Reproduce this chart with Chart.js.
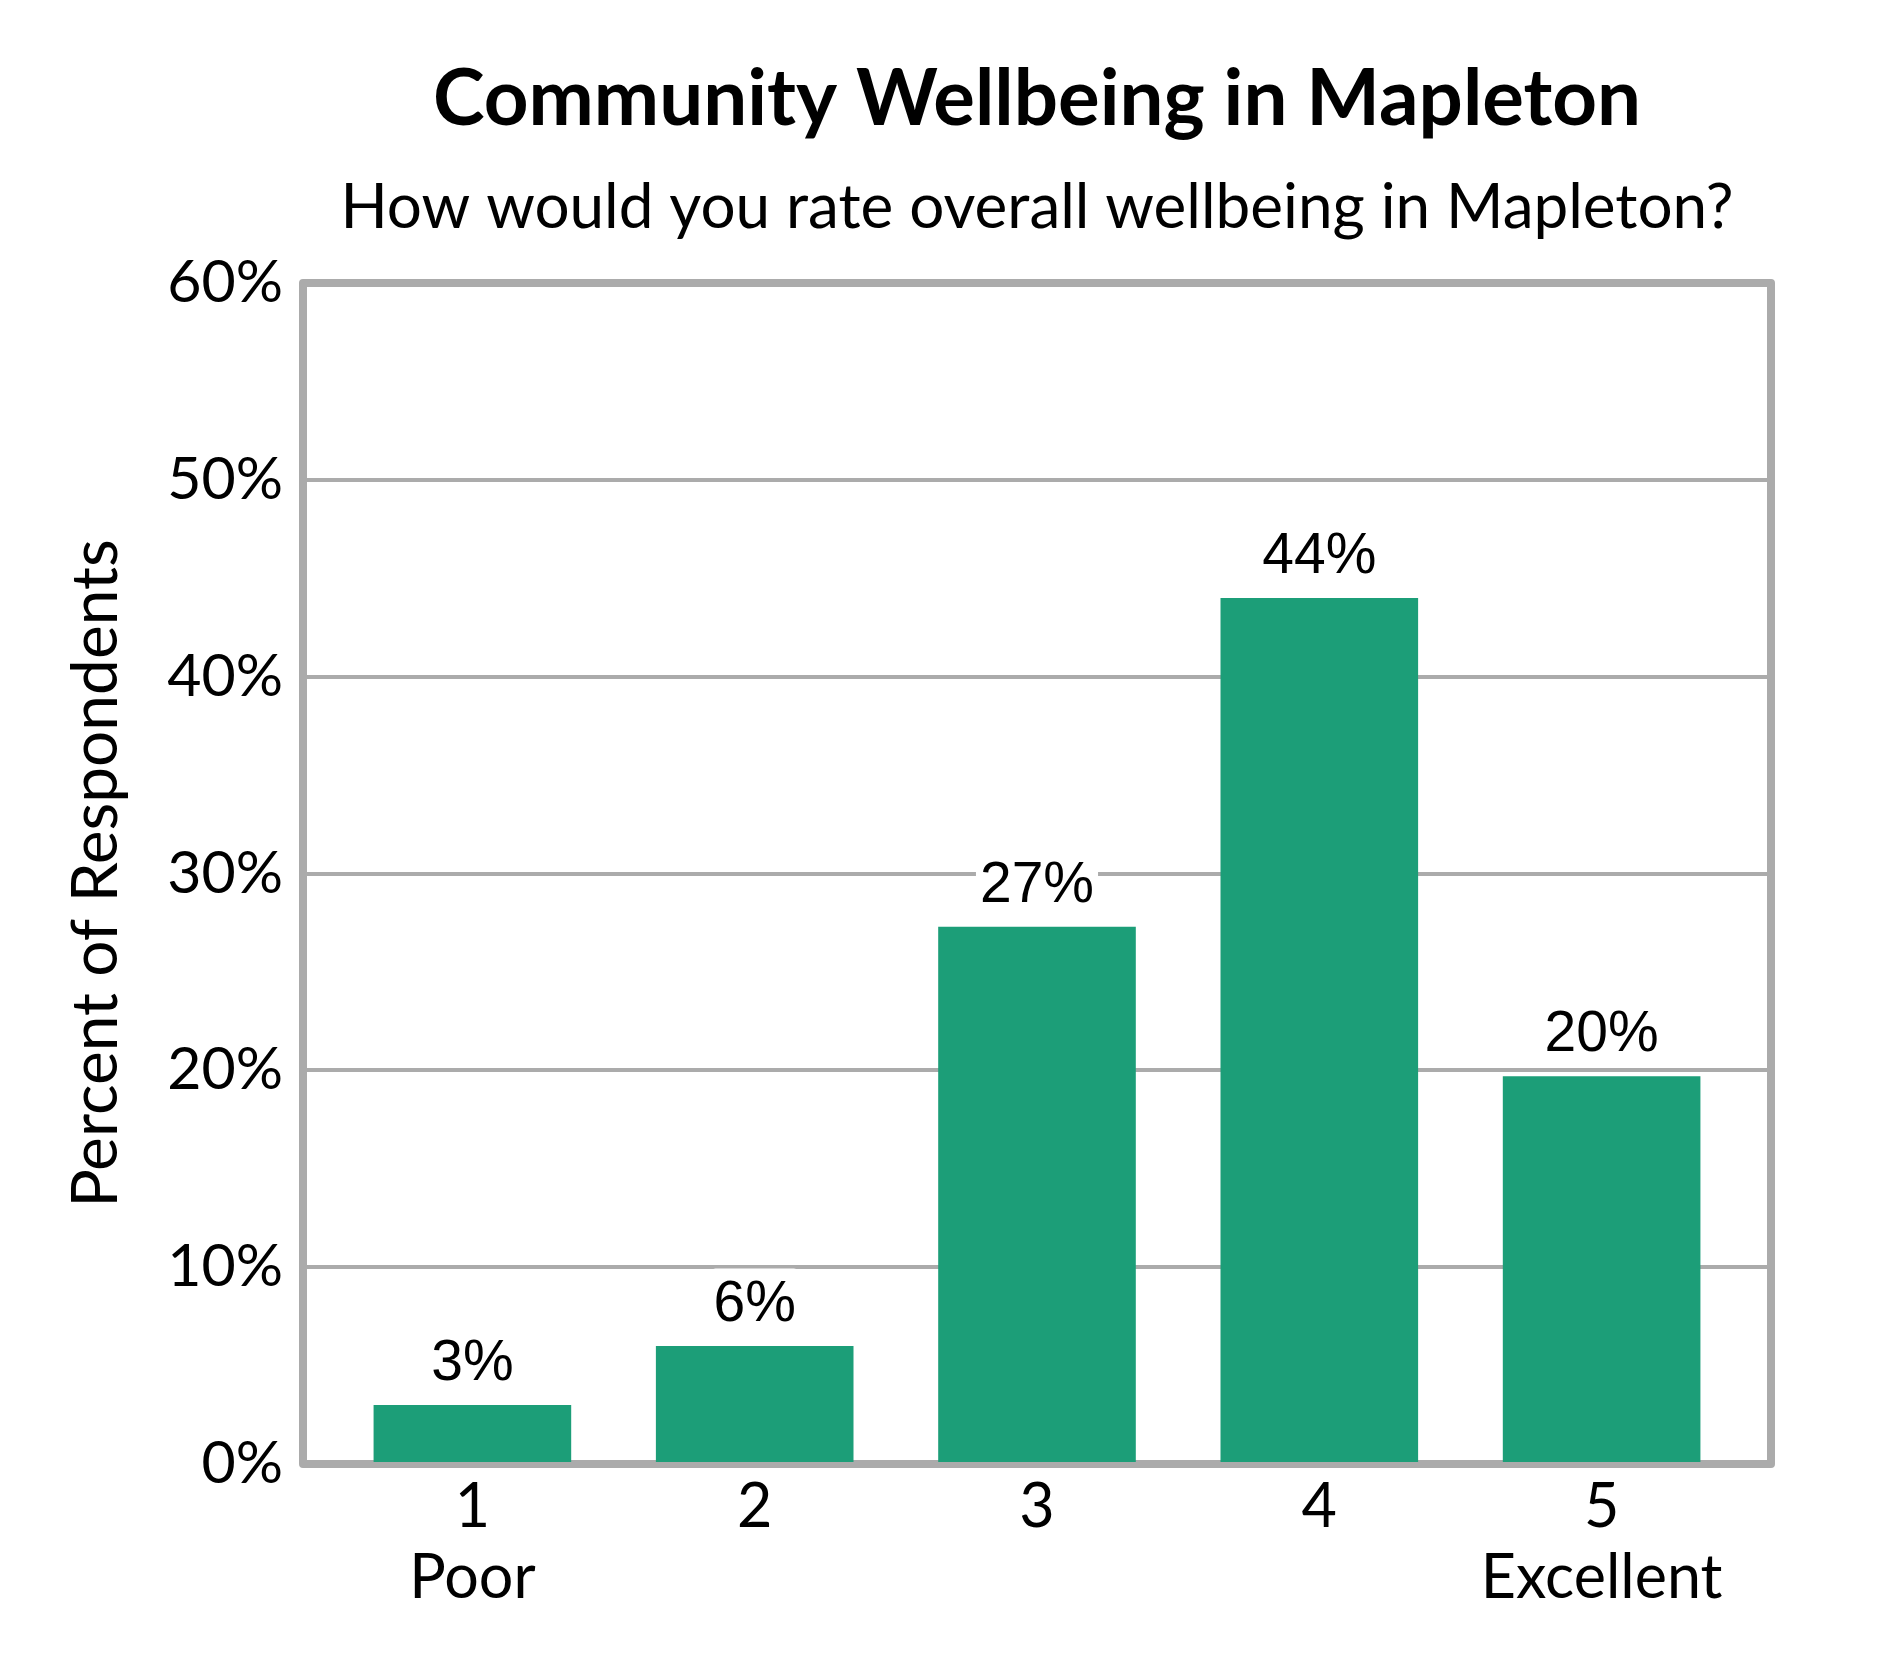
<!DOCTYPE html>
<html>
<head>
<meta charset="utf-8">
<title>Community Wellbeing in Mapleton</title>
<script src="https://cdn.jsdelivr.net/npm/chart.js@4.4.1/dist/chart.umd.min.js"></script>
<style>
  html, body { margin:0; padding:0; background:#fff; }
  #wrap { width:1890px; height:1680px; position:relative; }
</style>
</head>
<body>
<div id="wrap"><canvas id="wellbeing"></canvas></div>
<script>
/* ---------------- data ---------------- */
const ratings      = [1, 2, 3, 4, 5];
const ratingLabels = [["1", "Poor"], ["2"], ["3"], ["4"], ["5", "Excellent"]];
const percents     = [3.0, 6.0, 27.3, 44.0, 19.7];
const yTicks       = [0, 10, 20, 30, 40, 50, 60];

const COLORS = {
  bar:  "#1C9E78",
  grid: "#ABABAB",
  text: "#000000"
};

const TEXT_FONT = "Lato, 'Open Sans', sans-serif";
const LABEL_FONT = "'Liberation Sans', Arial, sans-serif";

/* grey box round the plot area (drawn under the bars) */
const framePlugin = {
  id: 'frame',
  beforeDatasetsDraw(chart){
    const { ctx, chartArea:a } = chart;
    ctx.save();
    ctx.strokeStyle = COLORS.grid;
    ctx.lineWidth = 8;
    ctx.lineJoin = 'round';
    ctx.strokeRect(a.left, a.top, a.right - a.left, a.bottom - a.top);
    ctx.restore();
  }
};

/* value labels above bars, on a white chip so grid lines don't cross them */
const valueLabels = {
  id: 'valueLabels',
  afterDatasetsDraw(chart){
    const { ctx } = chart;
    const size = 57;
    ctx.save();
    ctx.font = `${size}px ${LABEL_FONT}`;
    ctx.textAlign = 'center';
    ctx.textBaseline = 'alphabetic';
    chart.getDatasetMeta(0).data.forEach((bar, i) => {
      const txt = Math.round(percents[i]) + '%';
      const w = ctx.measureText(txt).width;
      const base = bar.y - 25;
      ctx.fillStyle = '#fff';
      ctx.beginPath();
      ctx.roundRect(bar.x - w/2 - 4, base - size*0.92, w + 8, size*1.05, 6);
      ctx.fill();
      ctx.fillStyle = COLORS.text;
      ctx.fillText(txt, bar.x, base);
    });
    ctx.restore();
  }
};

new Chart(document.getElementById('wellbeing'), {
  type: 'bar',
  data: {
    datasets: [{
      data: ratings.map((r, i) => ({ x: r, y: percents[i] })),
      backgroundColor: COLORS.bar,
      borderWidth: 0,
      categoryPercentage: 1,
      barPercentage: 0.7
    }]
  },
  options: {
    responsive: true,
    maintainAspectRatio: false,
    devicePixelRatio: 1,
    animation: false,
    layout: { padding: { left: 0, right: 119, top: 0, bottom: 0 } },
    plugins: {
      legend: { display: false },
      tooltip: { enabled: false },
      title: {
        display: true,
        fullSize: false,
        text: 'Community Wellbeing in Mapleton',
        color: COLORS.text,
        font: { family: TEXT_FONT, size: 78, weight: 'bold' },
        padding: { top: 53, bottom: 0 }
      },
      subtitle: {
        display: true,
        fullSize: false,
        text: 'How would you rate overall wellbeing in Mapleton?',
        color: COLORS.text,
        font: { family: TEXT_FONT, size: 62 },
        padding: { top: 24, bottom: 38 }
      }
    },
    scales: {
      x: {
        type: 'linear',
        min: 0.4,
        max: 5.6,
        offset: false,
        afterBuildTicks: axis => { axis.ticks = ratings.map(v => ({ value: v })); },
        afterFit: scale => { scale.height = 216; },
        grid: { display: false },
        border: { display: false },
        ticks: {
          color: COLORS.text,
          padding: 0,
          font: { family: TEXT_FONT, size: 61, lineHeight: 1.16 },
          callback: v => ratingLabels[ratings.indexOf(v)] || ''
        }
      },
      y: {
        min: 0,
        max: 60,
        afterBuildTicks: axis => { axis.ticks = yTicks.map(v => ({ value: v })); },
        afterFit: scale => { scale.width = 303; },
        grid: { color: COLORS.grid, lineWidth: 4, drawTicks: false },
        border: { display: false },
        ticks: {
          color: COLORS.text,
          padding: 20,
          font: { family: TEXT_FONT, size: 59 },
          callback: v => v + '%'
        },
        title: {
          display: true,
          text: 'Percent of Respondents',
          color: COLORS.text,
          font: { family: TEXT_FONT, size: 64 },
          padding: { top: 58, bottom: 0 }
        }
      }
    }
  },
  plugins: [framePlugin, valueLabels]
});
</script>
</body>
</html>
